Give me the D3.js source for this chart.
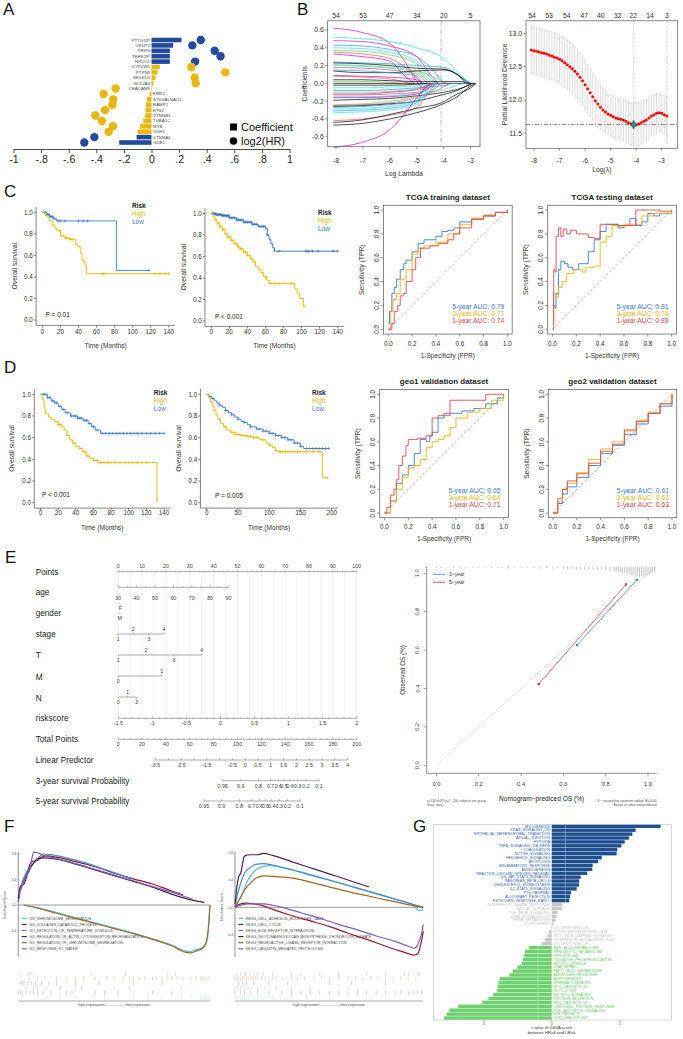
<!DOCTYPE html>
<html>
<head>
<meta charset="utf-8">
<script src="https://cdn.jsdelivr.net/npm/d3@7"></script>
<style>
  body { margin: 0; background: #fff; }
  svg { display: block; }
</style>
</head>
<body>
<svg id="fig" width="683" height="1039"></svg>
<script>
const FONT = '"Liberation Sans", Arial, Helvetica, sans-serif';

// ---------------- data: panel A (coefficients / log2 HR)
const aGenes = ['PTTG1IP','CFDP1','TRIP6','TERF2IP','NPDC1','CYP2W1','PTPN6','SEC61G','SLC2A3','CEACAM5',
  'EMP2','ST6GALNAC1','RAMP1','ETS2','CTNNB1','TUBA1C','MYB','CDH1','CTNNA1','GDE1'];
const aCoef = [0.217,0.157,0.133,0.133,0.133,0.06,0.043,0.029,0.014,0.005,
  -0.014,-0.034,-0.041,-0.043,-0.046,-0.06,-0.084,-0.099,-0.108,-0.234];
const aLog2HR = [0.357,0.296,0.458,0.5,0.316,0.289,0.535,0.313,0.32,-0.26,
  -0.347,-0.277,-0.284,-0.337,-0.407,-0.359,-0.28,-0.311,-0.414,-0.487];
const aGroup = ['b','b','b','b','b','y','y','y','y','y','y','y','y','y','y','y','y','y','b','b'];
const aTicks = [-1,-0.8,-0.6,-0.4,-0.2,0,0.2,0.4,0.6,0.8,1];

// ---------------- data: panel B (lasso paths, [logLambda, coef] pairs, color index)
const bPaths = [
  [5, [[-8.1,0.62],[-7,0.57],[-6,0.45],[-5.5,0.27],[-5,0.02],[-4.7,-0.08],[-4.4,0]]],
  [4, [[-8.1,0.52],[-7,0.5],[-6,0.47],[-5,0.4],[-4,0.28],[-3.4,0.1],[-3,0]]],
  [5, [[-8.1,0.48],[-7,0.47],[-6,0.42],[-5,0.3],[-4.5,0.1],[-4.2,0]]],
  [3, [[-8.1,0.43],[-7,0.42],[-6,0.38],[-5,0.3],[-4.5,0.18],[-4,0]]],
  [4, [[-8.1,0.40],[-7,0.39],[-6,0.35],[-5,0.25],[-4.6,0.1],[-4.3,0]]],
  [2, [[-8.1,0.37],[-7,0.36],[-6,0.32],[-5,0.22],[-4.8,0.1],[-4.5,0]]],
  [1, [[-8.1,0.35],[-7,0.33],[-6,0.28],[-5.3,0.15],[-4.8,0]]],
  [5, [[-8.1,0.33],[-7,0.3],[-6,0.25],[-5.5,0.1],[-5.1,0]]],
  [3, [[-8.1,0.24],[-7,0.23],[-6,0.22],[-5,0.2],[-4,0.18],[-3.3,0.06],[-3,0]]],
  [0, [[-8.1,0.23],[-7,0.22],[-6,0.2],[-5,0.17],[-4,0.16],[-3.5,0.1],[-3.1,0]]],
  [2, [[-8.1,0.21],[-7,0.2],[-6,0.18],[-5,0.14],[-4.3,0.06],[-3.9,0]]],
  [4, [[-8.1,0.20],[-7,0.19],[-6,0.17],[-5,0.12],[-4.5,0.04],[-4.2,0]]],
  [1, [[-8.1,0.18],[-7,0.17],[-6,0.15],[-5,0.1],[-4.6,0]]],
  [0, [[-8.1,0.14],[-7,0.12],[-6,0.12],[-5,0.14],[-4,0.15],[-3.5,0.1],[-3.2,0]]],
  [3, [[-8.1,0.15],[-7,0.14],[-6,0.12],[-5,0.08],[-4.8,0]]],
  [5, [[-8.1,0.09],[-7,0.08],[-6,0.07],[-5,0.04],[-4.8,0]]],
  [1, [[-8.1,0.08],[-7,0.07],[-6,0.05],[-5.5,0.02],[-5.2,0]]],
  [0, [[-8.1,0.04],[-7,0.04],[-6,0.03],[-5,0.02],[-4,0.02],[-3.4,0.02],[-3,0]]],
  [2, [[-8.1,0.02],[-7,0.02],[-6,0.01],[-5.6,0]]],
  [0, [[-8.1,0],[-2.8,0]]],
  [0, [[-8.1,-0.02],[-7,-0.02],[-6,-0.02],[-5,-0.01],[-4.5,0]]],
  [4, [[-8.1,-0.05],[-7,-0.05],[-6,-0.04],[-5,-0.03],[-4.5,0]]],
  [3, [[-8.1,-0.08],[-7,-0.08],[-6,-0.07],[-5,-0.05],[-4.2,-0.03],[-3.6,0]]],
  [2, [[-8.1,-0.1],[-7,-0.1],[-6,-0.09],[-5,-0.06],[-4.4,0]]],
  [5, [[-8.1,-0.12],[-7,-0.12],[-6,-0.1],[-5,-0.07],[-4.5,0]]],
  [1, [[-8.1,-0.13],[-7,-0.13],[-6,-0.12],[-5,-0.1],[-4.6,-0.03],[-4.3,0]]],
  [4, [[-8.1,-0.15],[-7,-0.15],[-6,-0.14],[-5,-0.11],[-4,-0.07],[-3.5,-0.02],[-3.2,0]]],
  [5, [[-8.1,-0.16],[-7,-0.16],[-6,-0.15],[-5,-0.12],[-4.5,-0.04],[-4.2,0]]],
  [0, [[-8.1,-0.19],[-7,-0.18],[-6,-0.17],[-5,-0.14],[-4,-0.1],[-3.3,-0.05],[-2.9,0]]],
  [2, [[-8.1,-0.24],[-7,-0.23],[-6,-0.2],[-5,-0.14],[-4.6,-0.05],[-4.3,0]]],
  [1, [[-8.1,-0.25],[-7,-0.24],[-6,-0.22],[-5,-0.16],[-4.2,-0.07],[-3.8,0]]],
  [0, [[-8.1,-0.26],[-7,-0.25],[-6,-0.23],[-5,-0.2],[-4.2,-0.14],[-3.5,-0.08],[-3,0]]],
  [3, [[-8.1,-0.27],[-7,-0.26],[-6,-0.24],[-5,-0.19],[-4.5,-0.1],[-4.1,0]]],
  [4, [[-8.1,-0.29],[-7,-0.28],[-6,-0.26],[-5,-0.2],[-4.6,-0.12],[-4.2,0]]],
  [3, [[-8.1,-0.31],[-7,-0.3],[-6,-0.28],[-5,-0.22],[-4.8,-0.1],[-4.4,0]]],
  [4, [[-8.1,-0.33],[-7,-0.32],[-6,-0.3],[-5,-0.24],[-4.7,-0.12],[-4.3,0]]],
  [1, [[-8.1,-0.42],[-7,-0.4],[-6,-0.36],[-5,-0.27],[-4.6,-0.12],[-4.3,0]]],
  [0, [[-8.1,-0.44],[-7,-0.41],[-6,-0.35],[-5,-0.28],[-4.1,-0.22],[-3.5,-0.12],[-3,-0.05],[-2.8,0]]],
  [5, [[-8.1,-0.72],[-7,-0.66],[-6,-0.52],[-5.5,-0.36],[-5,-0.16],[-4.6,-0.03],[-4.4,0]]],
  [0, [[-8.1,-0.47],[-7,-0.45],[-6,-0.4],[-5,-0.33],[-4.1,-0.24],[-3.5,-0.15],[-3,-0.03],[-2.8,0]]]
];
const bPalette = ['#000000','#DF536B','#61D04F','#2297E6','#28E2E5','#CD0BBC'];
const bTopLeftLam = [-8,-7,-6,-5,-4,-3];
const bTopLeftN = ['54','53','47','34','20','5'];
// cross-validation: [logLambda, mean deviance, sd]
const bCv = [
  [-8.1,12.75,0.36],[-8.0,12.74,0.36],[-7.9,12.73,0.36],[-7.8,12.72,0.36],[-7.7,12.71,0.36],[-7.6,12.70,0.36],
  [-7.5,12.69,0.36],[-7.4,12.67,0.36],[-7.3,12.66,0.36],[-7.2,12.64,0.36],[-7.1,12.63,0.36],[-7.0,12.61,0.36],
  [-6.9,12.59,0.36],[-6.8,12.56,0.37],[-6.7,12.53,0.37],[-6.6,12.50,0.37],[-6.5,12.47,0.37],[-6.4,12.43,0.37],
  [-6.3,12.39,0.37],[-6.2,12.34,0.37],[-6.1,12.29,0.37],[-6.0,12.23,0.37],[-5.9,12.17,0.36],[-5.8,12.11,0.36],
  [-5.7,12.05,0.35],[-5.6,11.99,0.35],[-5.5,11.94,0.34],[-5.4,11.89,0.33],[-5.3,11.85,0.33],[-5.2,11.82,0.32],
  [-5.1,11.79,0.31],[-5.0,11.77,0.31],[-4.9,11.75,0.31],[-4.8,11.73,0.31],[-4.7,11.72,0.31],[-4.6,11.71,0.31],
  [-4.5,11.70,0.31],[-4.4,11.68,0.31],[-4.3,11.66,0.32],[-4.2,11.64,0.32],[-4.1,11.63,0.32],[-4.0,11.63,0.33],
  [-3.9,11.64,0.33],[-3.8,11.66,0.32],[-3.7,11.68,0.32],[-3.6,11.70,0.31],[-3.5,11.73,0.31],[-3.4,11.76,0.30],
  [-3.3,11.78,0.30],[-3.2,11.80,0.30],[-3.1,11.81,0.29],[-3.0,11.80,0.29],[-2.9,11.78,0.29],[-2.8,11.76,0.29]
];
const bTopRightLam = [-8.08,-7.41,-6.72,-6.03,-5.39,-4.72,-4.11,-3.46,-2.8];
const bTopRightN = ['54','53','54','47','40','32','22','14','3'];
const bLamMin = -4.1, bLam1se = -2.8, bCvMin = 11.63;

// ---------------- data: panels C / D (Kaplan-Meier steps [time, survival] and censor times)
const c1High = [[0,1],[3,0.97],[6,0.95],[8,0.92],[11,0.88],[14,0.85],[16,0.83],[20,0.78],[25,0.76],[30,0.75],
  [37,0.7],[39,0.68],[42,0.62],[44,0.55],[47,0.5],[49,0.43],[140,0.43]];
const c1HighCens = [22,26,28,31,33,66,68,125,130,136,140];
const c1Low = [[0,1],[5,0.98],[8,0.96],[12,0.94],[16,0.92],[82,0.46],[118,0.46]];
const c1LowCens = [2,3,5,6,7,9,10,11,13,17,20,25,40,45,50,118];

const c2High = [[0,1],[2,0.97],[4,0.94],[6,0.91],[9,0.88],[12,0.85],[15,0.81],[18,0.78],[22,0.75],[25,0.72],
  [29,0.69],[32,0.67],[36,0.64],[40,0.61],[43,0.58],[46,0.55],[49,0.51],[52,0.48],[55,0.45],[58,0.41],[61,0.38],
  [64,0.35],[92,0.30],[95,0.26],[98,0.21],[102,0.14],[103,0.14]];
const c2HighCens = [5,8,10,12,14,16,18,20,22,24,26,28,30,32,34,36,38,40,42,45,48,56,60,66,70,75,82,88,103];
const c2Low = [[0,1],[5,0.99],[12,0.98],[20,0.96],[28,0.94],[36,0.92],[45,0.9],[52,0.88],[60,0.86],[62,0.8],
  [64,0.76],[66,0.72],[68,0.68],[70,0.65],[140,0.65]];
const c2LowCens = [1,2,3,4,5,6,7,8,9,10,11,12,13,14,15,16,17,18,19,20,22,24,26,28,30,32,34,36,38,40,42,44,46,
  48,50,53,56,58,62,75,105,108,112,118,135,140];

const d1High = [[0,1],[2,0.95],[4,0.9],[5,0.85],[6,0.82],[9,0.79],[12,0.77],[16,0.75],[20,0.72],[24,0.7],
  [27,0.67],[30,0.62],[33,0.58],[36,0.55],[40,0.52],[44,0.5],[48,0.47],[52,0.43],[56,0.41],[60,0.39],[65,0.37],
  [132,0]];
const d1HighCens = [20,22,30,38,45,50,54,60,64,68,72,76,80,85,90,96,100,104,110,115,120];
const d1Low = [[0,1],[8,0.97],[12,0.94],[16,0.92],[20,0.89],[24,0.86],[28,0.83],[34,0.8],[42,0.78],[48,0.76],
  [54,0.73],[58,0.7],[62,0.67],[68,0.64],[140,0.64]];
const d1LowCens = [3,5,8,10,14,18,22,26,30,35,38,40,42,44,46,50,52,56,60,64,70,74,78,82,86,90,94,98,102,106,
  110,115,120,125,130,135,140];

const d2High = [[0,1],[3,0.97],[6,0.93],[9,0.89],[12,0.85],[15,0.81],[18,0.77],[22,0.73],[27,0.7],[32,0.67],
  [38,0.65],[45,0.63],[55,0.62],[65,0.61],[75,0.6],[85,0.58],[95,0.55],[100,0.53],[105,0.51],[110,0.48],
  [115,0.47],[185,0.23],[194,0.23]];
const d2HighCens = [20,30,40,45,50,55,60,65,70,75,80,90,100,110,118,122,126,130,135,140,145,150,160,170,180,193];
const d2Low = [[0,1],[4,0.98],[8,0.96],[12,0.94],[16,0.92],[20,0.9],[25,0.88],[30,0.85],[35,0.83],[40,0.81],
  [45,0.79],[50,0.77],[55,0.75],[60,0.74],[65,0.72],[70,0.7],[80,0.68],[90,0.66],[100,0.64],[110,0.62],
  [120,0.6],[130,0.58],[140,0.55],[150,0.52],[155,0.5],[195,0.5]];
const d2LowCens = [10,20,30,40,50,60,70,80,85,90,95,100,105,110,115,120,125,130,135,140,145,150,160,165,170,
  175,180,185,190,195];

// ROC curves [FPR, TPR]
const rocTrain5 = [[0,0.05],[0.01,0.15],[0.03,0.3],[0.05,0.35],[0.07,0.42],[0.1,0.5],[0.13,0.55],[0.15,0.58],
  [0.2,0.65],[0.25,0.72],[0.3,0.75],[0.35,0.75],[0.4,0.78],[0.45,0.82],[0.5,0.83],[0.55,0.85],[0.6,0.9],
  [0.7,0.93],[0.8,0.95],[0.9,0.98],[1,1]];
const rocTrain3 = [[0,0],[0.02,0.15],[0.04,0.25],[0.07,0.3],[0.1,0.42],[0.15,0.5],[0.2,0.63],[0.25,0.68],
  [0.3,0.7],[0.4,0.73],[0.5,0.8],[0.6,0.88],[0.7,0.93],[0.8,0.96],[0.9,0.98],[1,1]];
const rocTrain1 = [[0,0],[0.03,0.05],[0.05,0.15],[0.08,0.2],[0.1,0.28],[0.13,0.3],[0.15,0.4],[0.2,0.5],
  [0.23,0.6],[0.27,0.68],[0.35,0.7],[0.42,0.72],[0.5,0.75],[0.55,0.8],[0.6,0.85],[0.7,0.92],[0.8,0.95],
  [0.9,0.98],[1,1]];
const rocTest5 = [[0,0.2],[0.02,0.18],[0.03,0.3],[0.05,0.5],[0.07,0.57],[0.1,0.55],[0.13,0.52],[0.17,0.5],
  [0.22,0.55],[0.3,0.65],[0.35,0.75],[0.4,0.82],[0.45,0.88],[0.52,0.88],[0.55,0.85],[0.6,0.87],[0.65,0.93],
  [0.7,0.87],[0.75,0.9],[0.8,0.97],[0.85,0.95],[0.9,0.97],[1,1]];
const rocTest3 = [[0,0.05],[0.01,0.3],[0.03,0.27],[0.05,0.35],[0.08,0.4],[0.12,0.47],[0.18,0.5],[0.25,0.48],
  [0.28,0.52],[0.35,0.53],[0.37,0.53],[0.4,0.73],[0.45,0.78],[0.5,0.87],[0.55,0.86],[0.6,0.88],[0.7,0.88],
  [0.75,0.95],[0.85,0.97],[1,1]];
const rocTest1 = [[0,0],[0.01,0.5],[0.02,0.48],[0.03,0.78],[0.05,0.85],[0.07,0.78],[0.09,0.84],[0.12,0.8],
  [0.15,0.83],[0.2,0.8],[0.3,0.77],[0.35,0.76],[0.4,0.88],[0.5,0.88],[0.55,0.87],[0.67,0.87],[0.7,1.0],
  [0.8,1.0],[0.9,0.99],[1,0.99]];
const rocGeo1_5 = [[0,0],[0.05,0.1],[0.1,0.25],[0.15,0.32],[0.2,0.4],[0.25,0.5],[0.3,0.62],[0.35,0.6],
  [0.38,0.65],[0.4,0.68],[0.45,0.8],[0.5,0.84],[0.6,0.84],[0.65,0.86],[0.75,0.88],[0.85,0.92],[0.95,0.97],[1,1]];
const rocGeo1_3 = [[0,0],[0.05,0.1],[0.1,0.2],[0.15,0.3],[0.2,0.38],[0.25,0.4],[0.3,0.45],[0.35,0.55],
  [0.4,0.6],[0.45,0.62],[0.5,0.65],[0.55,0.72],[0.6,0.8],[0.7,0.85],[0.8,0.88],[0.9,0.95],[1,1]];
const rocGeo1_1 = [[0,0],[0.02,0.05],[0.05,0.15],[0.08,0.2],[0.1,0.28],[0.12,0.4],[0.15,0.48],[0.18,0.57],
  [0.2,0.62],[0.25,0.62],[0.28,0.63],[0.35,0.65],[0.4,0.8],[0.45,0.82],[0.5,0.82],[0.55,0.95],[0.8,0.95],
  [0.85,1],[1,1]];
const rocGeo2_5 = [[0,0],[0.04,0.08],[0.08,0.16],[0.12,0.22],[0.2,0.3],[0.3,0.4],[0.4,0.5],[0.5,0.57],
  [0.6,0.66],[0.7,0.75],[0.8,0.84],[0.9,0.9],[1,1]];
const rocGeo2_3 = [[0,0],[0.04,0.1],[0.08,0.2],[0.12,0.25],[0.2,0.34],[0.3,0.45],[0.4,0.54],[0.5,0.6],
  [0.6,0.69],[0.7,0.78],[0.8,0.85],[0.9,0.92],[1,1]];
const rocGeo2_1 = [[0,0],[0.04,0.12],[0.08,0.2],[0.12,0.27],[0.2,0.33],[0.3,0.42],[0.4,0.52],[0.5,0.58],
  [0.6,0.7],[0.7,0.77],[0.8,0.84],[0.9,0.92],[1,1]];

// ---------------- data: panel E (nomogram + calibration)
const nomoPointTicks = [0,10,20,30,40,50,60,70,80,90,100];
const ageLabels = [30,40,50,60,70,80,90];
const agePts = [0,7.7,15.4,23.1,30.8,38.5,46.2];
const stageLevels = ['1','2','3','4'], stagePts = [0,6.3,12.9,19.2];
const tLevels = ['1','2','3','4'], tPts = [0,11.6,23.4,35];
const mLevels = ['0','1'], mPts = [0,18.2];
const nLevels = ['0','1','2'], nPts = [0,3.8,7.7];
const riskLabels = [-1.5,-1,-0.5,0,0.5,1,1.5,2];
const totalTicks = [0,20,40,60,80,100,120,140,160,180,200];
const lpLabels = [-3.5,-2.5,-1.5,-0.5,0,0.5,1,1.5,2,2.5,3,3.5,4];
const surv3Labels = ['0.95','0.9','0.8','0.7','0.6','0.5','0.4','0.3','0.2','0.1'];
const surv3Total = [87.6,102.7,117.5,127.8,134.3,139,144,150.5,157.5,168.4];
const surv5Labels = ['0.95','0.9','0.8','0.7','0.6','0.5','0.4','0.3','0.2','0.1'];
const surv5Total = [71.9,86.7,101.5,111.9,118.3,123.6,128.7,135.1,141.8,152.4];

const cal3 = [[0.664,0.626],[0.947,0.966]];
const cal5 = [[0.483,0.423],[0.896,0.942]];
const calHist = [[0.00,1],[0.02,1.5],[0.05,1],[0.08,1],[0.11,1.5],[0.14,1],[0.17,1],[0.2,1.5],[0.23,1],[0.26,1],
  [0.29,1.5],[0.31,1],[0.34,2],[0.37,1],[0.40,1.5],[0.43,1],[0.46,1.5],[0.49,2],[0.52,1.5],[0.55,2],[0.57,1.5],
  [0.6,2],[0.62,2.5],[0.64,2],[0.66,2.5],[0.68,3],[0.70,2.5],[0.72,3],[0.74,3],[0.76,3.5],[0.78,3],[0.80,4],
  [0.82,4],[0.84,5],[0.85,4.5],[0.86,6],[0.87,5],[0.88,7],[0.89,6],[0.90,8],[0.91,7],[0.92,9],[0.93,8],
  [0.94,10],[0.95,9],[0.96,10],[0.97,9],[0.98,10],[0.99,9],[1.00,8],[1.01,7],[1.02,6],[1.03,5]];

// ---------------- data: panel F (GSEA running scores [rank fraction, ES])
const goNames = ['GO_CHROMOSOME_SEGREGATION','GO_COLLAGEN_CATABOLIC_PROCESS','GO_DETECTION_OF_TEMPERATURE_STIMULUS',
  'GO_REGULATION_OF_ACTIN_CYTOSKELETON_REORGANIZATION','GO_REGULATION_OF_CHROMOSOME_SEGREGATION','GO_RESPONSE_TO_WATER'];
const keggNames = ['KEGG_CELL_ADHESION_MOLECULES_CAMS','KEGG_CELL_CYCLE','KEGG_ECM_RECEPTOR_INTERACTION',
  'KEGG_GLYCOSAMINOGLYCAN_BIOSYNTHESIS_CHONDROITIN_SULFATE','KEGG_NEUROACTIVE_LIGAND_RECEPTOR_INTERACTION',
  'KEGG_UBIQUITIN_MEDIATED_PROTEOLYSIS'];
const gseaColors = ['#4EC3D8','#8E1B3A','#4A89C8','#4B2050','#A5642A','#7C5CB5'];
const goCurves = [
  [[0.03,0],[0.1,-0.04],[0.2,-0.12],[0.3,-0.2],[0.4,-0.28],[0.5,-0.36],[0.6,-0.44],[0.7,-0.53],[0.8,-0.63],
   [0.86,-0.71],[0.89,-0.73],[0.93,-0.7],[0.96,-0.67],[0.98,-0.6],[0.99,-0.45],[1,0]],
  [[0,0.05],[0.01,0.25],[0.03,0.4],[0.05,0.55],[0.07,0.68],[0.1,0.7],[0.12,0.75],[0.15,0.77],[0.2,0.75],
   [0.3,0.68],[0.4,0.6],[0.5,0.5],[0.6,0.41],[0.7,0.33],[0.8,0.22],[0.86,0.16]],
  [[0,0.05],[0.02,0.35],[0.04,0.5],[0.07,0.62],[0.1,0.72],[0.13,0.8],[0.17,0.79],[0.25,0.74],[0.35,0.66],
   [0.45,0.56],[0.59,0.41]],
  [[0,0.1],[0.01,0.28],[0.03,0.33],[0.05,0.5],[0.08,0.66],[0.1,0.73],[0.13,0.74],[0.2,0.72],[0.3,0.64],
   [0.4,0.55],[0.5,0.46],[0.6,0.37],[0.7,0.28],[0.8,0.17],[0.9,0.08],[0.97,0.04]],
  [[0.03,0],[0.1,-0.05],[0.2,-0.13],[0.3,-0.21],[0.4,-0.29],[0.5,-0.37],[0.6,-0.45],[0.7,-0.54],[0.8,-0.64],
   [0.87,-0.74],[0.9,-0.75],[0.93,-0.72],[0.96,-0.68],[0.98,-0.58],[0.99,-0.4],[1,0]],
  [[0,0.15],[0.02,0.3],[0.04,0.45],[0.06,0.55],[0.08,0.83],[0.1,0.82],[0.13,0.78],[0.2,0.73],[0.3,0.65],
   [0.4,0.56],[0.5,0.47],[0.6,0.38],[0.7,0.29],[0.8,0.2],[0.91,0.09]]
];
const keggCurves = [
  [[0,0],[0.02,0.1],[0.04,0.2],[0.06,0.35],[0.08,0.45],[0.1,0.52],[0.13,0.58],[0.18,0.61],[0.25,0.58],
   [0.35,0.52],[0.45,0.44],[0.55,0.36],[0.65,0.28],[0.75,0.2],[0.85,0.12],[0.95,0.02],[0.98,-0.05],[1,-0.03]],
  [[0,0],[0.02,0.04],[0.06,0.06],[0.1,0.05],[0.15,0.02],[0.2,-0.03],[0.3,-0.12],[0.4,-0.2],[0.5,-0.28],
   [0.6,-0.38],[0.7,-0.47],[0.8,-0.57],[0.9,-0.66],[0.95,-0.7],[0.97,-0.68],[0.99,-0.5],[1,-0.35]],
  [[0,0],[0.01,0.15],[0.03,0.35],[0.05,0.5],[0.08,0.58],[0.11,0.63],[0.15,0.64],[0.2,0.62],[0.3,0.55],
   [0.4,0.47],[0.5,0.4],[0.6,0.32],[0.7,0.24],[0.8,0.16],[0.9,0.08],[1,0.0]],
  [[0,0.05],[0.01,0.3],[0.02,0.45],[0.03,0.5],[0.05,0.75],[0.08,0.77],[0.12,0.77],[0.15,0.79],[0.2,0.76],
   [0.3,0.67],[0.4,0.58],[0.5,0.49],[0.6,0.4],[0.71,0.3]],
  [[0,0],[0.02,0.1],[0.05,0.25],[0.08,0.35],[0.12,0.44],[0.16,0.46],[0.22,0.45],[0.3,0.43],[0.4,0.37],
   [0.5,0.3],[0.6,0.23],[0.7,0.17],[0.8,0.11],[0.9,0.05],[1,0.0]],
  [[0,0],[0.03,0.03],[0.08,0.05],[0.15,0.05],[0.2,0.03],[0.25,0.0],[0.35,-0.08],[0.45,-0.16],[0.55,-0.25],
   [0.65,-0.33],[0.75,-0.42],[0.85,-0.5],[0.92,-0.57],[0.95,-0.6],[0.97,-0.55],[0.99,-0.4],[1,-0.25]]
];
// hit positions, rows top to bottom (set index, positions)
const goRug = [
  [5, [0.01,0.05,0.06,0.07,0.38,0.56,0.78,0.82]],
  [4, [0.06,0.1,0.14,0.2,0.25,0.3,0.34,0.4,0.46,0.5,0.55,0.58,0.6,0.63,0.66,0.7,0.72,0.75,0.78,0.8,0.83,0.86,
       0.9,0.93,0.95,0.96,0.97,0.98,0.99]],
  [3, [0.01,0.02,0.03,0.05,0.07,0.09,0.12,0.16,0.2,0.3,0.42,0.6,0.75]],
  [2, [0.04,0.08,0.1,0.15,0.22,0.3,0.33,0.5,0.58,0.85]],
  [1, [0.0,0.01,0.02,0.04,0.06,0.08,0.1,0.13,0.17,0.25,0.28,0.4,0.45,0.52,0.7,0.8]],
  [0, [0.02,0.1,0.15,0.22,0.3,0.4,0.45,0.52,0.6,0.68,0.75,0.85,0.9,0.95,0.96,0.97,0.98,0.99,1.0]]
];
const keggRug = [
  [5, [0.01,0.03,0.05,0.06,0.08,0.1,0.12,0.15,0.2,0.3,0.35,0.45,0.55,0.7,0.8,0.9,0.92,0.95,0.97,0.98]],
  [4, [0.0,0.01,0.02,0.03,0.04,0.05,0.06,0.07,0.08,0.09,0.1,0.11,0.12,0.14,0.16,0.18,0.2,0.22,0.25,0.3,0.33,
       0.37,0.42,0.46,0.5,0.55,0.6,0.64,0.68,0.72,0.76,0.8,0.84,0.88,0.92,0.96]],
  [3, [0.02,0.04,0.06,0.1,0.18,0.28,0.5,0.62,0.8]],
  [2, [0.0,0.01,0.02,0.03,0.05,0.07,0.09,0.12,0.16,0.22,0.3,0.4,0.6]],
  [1, [0.0,0.03,0.05,0.08,0.12,0.18,0.25,0.3,0.35,0.4,0.45,0.5,0.55,0.6,0.65,0.7,0.75,0.8,0.85,0.88,0.92,
       0.95,0.97,0.99]],
  [0, [0.0,0.01,0.02,0.03,0.04,0.05,0.06,0.07,0.08,0.1,0.12,0.14,0.17,0.2,0.24,0.3,0.38,0.5,0.6,0.72,0.85]]
];

// ---------------- data: panel G (GSVA t values, hallmark sets)
const gSets = ['MYOGENESIS','KRAS_SIGNALING_DN','EPITHELIAL_MESENCHYMAL_TRANSITION','APICAL_JUNCTION','HYPOXIA',
  'TNFA_SIGNALING_VIA_NFKB','COAGULATION','NOTCH_SIGNALING','HEDGEHOG_SIGNALING','APOPTOSIS',
  'INFLAMMATORY_RESPONSE','ANGIOGENESIS','REACTIVE_OXYGEN_SPECIES_PATHWAY','IL6_JAK_STAT3_SIGNALING',
  'PANCREAS_BETA_CELLS','CHOLESTEROL_HOMEOSTASIS','IL2_STAT5_SIGNALING','P53_PATHWAY','ALLOGRAFT_REJECTION',
  'ESTROGEN_RESPONSE_EARLY','INTERFERON_GAMMA_RESPONSE','APICAL_SURFACE','TGF_BETA_SIGNALING','KRAS_SIGNALING_UP',
  'HEME_METABOLISM','COMPLEMENT','UV_RESPONSE_DN','ESTROGEN_RESPONSE_LATE','WNT_BETA_CATENIN_SIGNALING',
  'INTERFERON_ALPHA_RESPONSE','UV_RESPONSE_UP','BILE_ACID_METABOLISM','XENOBIOTIC_METABOLISM','PEROXISOME',
  'OXIDATIVE_PHOSPHORYLATION','MITOTIC_SPINDLE','DNA_REPAIR','FATTY_ACID_METABOLISM','ANDROGEN_RESPONSE',
  'ADIPOGENESIS','SPERMATOGENESIS','MYC_TARGETS_V2','GLYCOLYSIS','MTORC1_SIGNALING','PROTEIN_SECRETION',
  'MYC_TARGETS_V1','UNFOLDED_PROTEIN_RESPONSE','PI3K_AKT_MTOR_SIGNALING','E2F_TARGETS','G2M_CHECKPOINT'];
const gT = [7.97,6.14,5.9,5.65,5.34,5.1,4.8,4.75,3.66,3.41,3.0,2.97,2.6,2.12,2.02,2.0,1.83,1.41,1.34,1.29,
  0.78,0.73,0.41,0.36,0.29,0.12,-0.05,-0.2,-0.3,-0.49,-0.73,-1.66,-1.95,-2.0,-2.12,-2.2,-2.51,-2.85,-3.1,
  -3.78,-3.9,-3.95,-3.98,-4.27,-4.63,-5.07,-6.83,-7.49,-7.68,-7.88];

// =====================================================================
const svg = d3.select('#fig');
svg.append('rect').attr('width', 683).attr('height', 1039).attr('fill', '#fff');

function label(p, x, y, s, fs, o) {
  o = o || {};
  const t = p.append('text').attr('x', x).attr('y', y).text(s)
    .attr('font-family', FONT).attr('font-size', fs)
    .attr('text-anchor', o.anchor || 'start').attr('fill', o.fill || '#222');
  if (o.bold) t.attr('font-weight', 'bold');
  if (o.rot) t.attr('transform', 'rotate(' + o.rot + ',' + x + ',' + y + ')');
  return t;
}
function seg(p, x1, y1, x2, y2, col, w, dash) {
  const l = p.append('line').attr('x1', x1).attr('y1', y1).attr('x2', x2).attr('y2', y2)
    .attr('stroke', col || '#333').attr('stroke-width', w || 0.6);
  if (dash) l.attr('stroke-dasharray', dash);
  return l;
}
const hy = v => (v < 0 ? '-' : '') + Math.abs(v);

// panel letters
[['A', 3, 15], ['B', 297, 15], ['C', 4, 197], ['D', 4, 373], ['E', 5, 563], ['F', 4, 832], ['G', 413, 832]]
  .forEach(d => label(svg, d[1], d[2], d[0], 17, {fill: '#111'}));

// ---------------- Panel A
(function() {
  const g = svg.append('g');
  const x = d3.scaleLinear().domain([-1, 1]).range([13.5, 289.5]);
  const y = d3.scalePoint().domain(aGenes).range([40, 142.5]);
  const col = {b: '#234B9B', y: '#E8B60C'};
  g.selectAll('rect.bar').data(aGenes).join('rect')
    .attr('x', (d, i) => x(Math.min(0, aCoef[i])))
    .attr('width', (d, i) => Math.abs(x(aCoef[i]) - x(0)))
    .attr('y', d => y(d) - 2.3).attr('height', 4.6)
    .attr('fill', (d, i) => col[aGroup[i]]);
  aGenes.forEach((d, i) => {
    const pos = aCoef[i] > 0;
    label(g, x(0) + (pos ? -1.5 : 1.5), y(d) + 1.5, d, 4.4, {anchor: pos ? 'end' : 'start', fill: '#444'});
  });
  g.selectAll('circle').data(aGenes).join('circle')
    .attr('cx', (d, i) => x(aLog2HR[i])).attr('cy', d => y(d)).attr('r', 4.2)
    .attr('fill', (d, i) => col[aGroup[i]]);
  const ax = g.append('g').attr('transform', 'translate(0,149)')
    .call(d3.axisBottom(x).tickValues(aTicks).tickSize(4).tickPadding(3).tickSizeOuter(0)
      .tickFormat(v => v === 0 ? '0' : (v < 0 ? '-' : '') + (Math.abs(v) === 1 ? '1' : String(Math.abs(v)).replace(/^0/, ''))));
  ax.attr('font-family', FONT).attr('font-size', 10.5);
  ax.selectAll('path,line').attr('stroke', '#222').attr('stroke-width', 0.8);
  ax.selectAll('text').attr('fill', '#222');
  g.append('rect').attr('x', 230).attr('y', 123.5).attr('width', 7).attr('height', 7).attr('fill', '#000');
  g.append('circle').attr('cx', 233.5).attr('cy', 141).attr('r', 3.8).attr('fill', '#000');
  label(g, 241, 131, 'Coefficient', 11, {fill: '#111'});
  label(g, 241, 145, 'log2(HR)', 11, {fill: '#111'});
})();

// ---------------- R-style helpers
function rBox(g, b) {
  g.append('rect').attr('x', b.x0).attr('y', b.y0).attr('width', b.x1 - b.x0).attr('height', b.y1 - b.y0)
    .attr('fill', 'none').attr('stroke', '#555').attr('stroke-width', 0.7);
}
function rXTicks(g, sc, vals, yb, labY, fs, fmt) {
  vals.forEach(v => {
    seg(g, sc(v), yb, sc(v), yb + 2.5, '#555', 0.6);
    label(g, sc(v), labY, fmt(v), fs, {anchor: 'middle', fill: '#333'});
  });
}
function rYTicks(g, sc, vals, xb, fs, fmt, rotate) {
  vals.forEach(v => {
    seg(g, xb, sc(v), xb - 2.5, sc(v), '#555', 0.6);
    if (rotate) label(g, xb - 4.5, sc(v), fmt(v), fs, {anchor: 'middle', fill: '#333', rot: -90});
    else label(g, xb - 4, sc(v) + fs * 0.35, fmt(v), fs, {anchor: 'end', fill: '#333'});
  });
}

// ---------------- Panel B left: coefficient paths
(function() {
  const g = svg.append('g');
  const box = {x0: 327.7, x1: 480, y0: 20.8, y1: 146.7};
  const x = d3.scaleLinear().domain([-8, -3]).range([336, 470.7]);
  const y = d3.scaleLinear().domain([-0.6, 0.6]).range([136.7, 30]);
  const line = d3.line().x(d => x(d[0])).y(d => y(d[1])).curve(d3.curveMonotoneX);
  bPaths.forEach(p => {
    g.append('path').attr('d', line(p[1])).attr('fill', 'none')
      .attr('stroke', bPalette[p[0]]).attr('stroke-width', 0.7);
  });
  seg(g, x(bLamMin), box.y0, x(bLamMin), box.y1, '#999', 0.7, '4,2,1,2');
  rBox(g, box);
  rXTicks(g, x, [-8, -7, -6, -5, -4, -3], box.y1, 162.5, 6.8, hy);
  rYTicks(g, y, [-0.6, -0.4, -0.2, 0, 0.2, 0.4, 0.6], box.x0, 6.8, v => v.toFixed(1), false);
  bTopLeftLam.forEach((v, i) => label(g, x(v), 18.2, bTopLeftN[i], 6.8, {anchor: 'middle', fill: '#333'}));
  label(g, (box.x0 + box.x1) / 2, 175.5, 'Log Lambda', 6.8, {anchor: 'middle', fill: '#333'});
  label(g, 306.5, (box.y0 + box.y1) / 2, 'Coefficients', 6.8, {anchor: 'middle', fill: '#333', rot: -90});
})();

// ---------------- Panel B right: CV deviance
(function() {
  const g = svg.append('g');
  const box = {x0: 526, x1: 677.7, y0: 20.8, y1: 148.3};
  const x = d3.scaleLinear().domain([-8, -3]).range([534, 661.7]);
  const y = d3.scaleLinear().domain([11.5, 13]).range([133.3, 33.3]);
  bCv.forEach(d => {
    seg(g, x(d[0]), y(d[1] - d[2]), x(d[0]), y(d[1] + d[2]), '#c4c4c4', 0.6);
    seg(g, x(d[0]) - 0.9, y(d[1] + d[2]), x(d[0]) + 0.9, y(d[1] + d[2]), '#c4c4c4', 0.6);
    seg(g, x(d[0]) - 0.9, y(d[1] - d[2]), x(d[0]) + 0.9, y(d[1] - d[2]), '#c4c4c4', 0.6);
  });
  seg(g, x(bLamMin), box.y0, x(bLamMin), box.y1, '#aaa', 0.7, '1,1.5');
  seg(g, x(bLam1se), box.y0, x(bLam1se), box.y1, '#aaa', 0.7, '1,1.5');
  seg(g, box.x0, y(bCvMin), box.x1, y(bCvMin), '#666', 0.8, '4,2,1,2');
  g.selectAll('circle.cv').data(bCv).join('circle')
    .attr('cx', d => x(d[0])).attr('cy', d => y(d[1])).attr('r', 1.5).attr('fill', '#FF0000');
  g.append('path').attr('d', d3.symbol().type(d3.symbolDiamond).size(22)())
    .attr('transform', 'translate(' + x(bLamMin) + ',' + y(bCvMin) + ')')
    .attr('fill', '#1C9C8C').attr('stroke', '#222').attr('stroke-width', 0.5);
  rBox(g, box);
  rXTicks(g, x, [-8, -7, -6, -5, -4, -3], box.y1, 163, 6.8, hy);
  rYTicks(g, y, [11.5, 12.0, 12.5, 13.0], box.x0, 6.8, v => v.toFixed(1), false);
  bTopRightLam.forEach((v, i) => label(g, x(v), 17.8, bTopRightN[i], 6.8, {anchor: 'middle', fill: '#333'}));
  label(g, (box.x0 + box.x1) / 2, 171.5, 'Log(\u03bb)', 6.8, {anchor: 'middle', fill: '#333'});
  label(g, 507, (box.y0 + box.y1) / 2, 'Partial Likelihood Deviance', 6.8, {anchor: 'middle', fill: '#333', rot: -90});
})();

// ---------------- Kaplan-Meier
const KM_HIGH = '#E7B800', KM_LOW = '#3A7BD2';
function survAt(steps, t) {
  let s = steps[0][1];
  for (const st of steps) { if (st[0] <= t) s = st[1]; }
  return s;
}
function kmPlot(o) {
  const g = svg.append('g');
  const x = d3.scaleLinear().domain([0, o.tmax]).range([o.xa, o.xb]);
  const y = d3.scaleLinear().domain([0, 1]).range([o.y0, o.y1]);
  const px = (o.xb - o.xa) * 0.05, py = (o.y0 - o.y1) * 0.05;
  const axY = o.y0 + py, axX = o.xa - px;
  seg(g, axX, axY, o.xb + px, axY, '#333', 0.6);
  seg(g, axX, o.y1 - py, axX, axY, '#333', 0.6);
  o.xticks.forEach(v => {
    seg(g, x(v), axY, x(v), axY + 2.2, '#333', 0.6);
    label(g, x(v), o.tickY, String(v), 6.3, {anchor: 'middle', fill: '#333'});
  });
  [0, 0.2, 0.4, 0.6, 0.8, 1].forEach(v => {
    seg(g, axX, y(v), axX - 2.2, y(v), '#333', 0.6);
    label(g, axX - 3.2, y(v) + 2.2, v.toFixed(1), 6.3, {anchor: 'end', fill: '#333'});
  });
  const line = d3.line().x(d => x(d[0])).y(d => y(d[1])).curve(d3.curveStepAfter);
  o.series.forEach(s => {
    g.append('path').attr('d', line(s.steps)).attr('fill', 'none').attr('stroke', s.color).attr('stroke-width', 0.9);
    s.cens.forEach(t => {
      const cx = x(t), cy = y(survAt(s.steps, t));
      g.append('path').attr('d', 'M' + (cx - 1.6) + ',' + cy + 'H' + (cx + 1.6) + 'M' + cx + ',' + (cy - 1.6) + 'V' + (cy + 1.6))
        .attr('stroke', s.color).attr('stroke-width', 0.6);
    });
  });
  label(g, o.legX, o.legY, 'Risk', 6.5, {bold: true, fill: '#222'});
  label(g, o.legX, o.legY + 8.2, 'High', 6.5, {fill: KM_HIGH});
  label(g, o.legX, o.legY + 16.4, 'Low', 6.5, {fill: KM_LOW});
  label(g, o.pX, o.pY, o.p, 6.5, {fill: '#222'});
  label(g, (o.xa + o.xb) / 2, o.titleY, 'Time (Months)', 6.6, {anchor: 'middle', fill: '#333'});
  label(g, o.yTitleX, (o.y0 + o.y1) / 2, 'Overall survival', 6.8, {anchor: 'middle', fill: '#333', rot: -90});
}
const t140 = [0, 20, 40, 60, 80, 100, 120, 140];
kmPlot({xa: 42.4, xb: 168.8, tmax: 140, y0: 320, y1: 212.3, xticks: t140, tickY: 334, titleY: 347.5, yTitleX: 17.5,
  legX: 132, legY: 207.5, p: 'P = 0.01', pX: 45.5, pY: 316.5,
  series: [{steps: c1Low, cens: c1LowCens, color: KM_LOW}, {steps: c1High, cens: c1HighCens, color: KM_HIGH}]});
kmPlot({xa: 211.3, xb: 337.7, tmax: 140, y0: 321, y1: 213.5, xticks: t140, tickY: 334, titleY: 347.5, yTitleX: 186,
  legX: 318, legY: 214.5, p: 'P < 0.001', pX: 215, pY: 318.5,
  series: [{steps: c2Low, cens: c2LowCens, color: '#2F6BC0'}, {steps: c2High, cens: c2HighCens, color: KM_HIGH}]});
kmPlot({xa: 40.5, xb: 164, tmax: 140, y0: 502.7, y1: 394.3, xticks: t140, tickY: 515, titleY: 529.5, yTitleX: 13.5,
  legX: 153.7, legY: 394.5, p: 'P < 0.001', pX: 42, pY: 497,
  series: [{steps: d1Low, cens: d1LowCens, color: KM_LOW}, {steps: d1High, cens: d1HighCens, color: KM_HIGH}]});
kmPlot({xa: 206.7, xb: 331.7, tmax: 200, y0: 502.7, y1: 394.3, xticks: [0, 50, 100, 150, 200], tickY: 515, titleY: 529.5,
  yTitleX: 181, legX: 312, legY: 394.5, p: 'P = 0.005', pX: 215, pY: 498,
  series: [{steps: d2Low, cens: d2LowCens, color: KM_LOW}, {steps: d2High, cens: d2HighCens, color: KM_HIGH}]});

// ---------------- ROC
const ROC_COL = {5: '#3A7BDA', 3: '#E8B60C', 1: '#E0474C'};
function rocPlot(o) {
  const g = svg.append('g');
  const x = d3.scaleLinear().domain([0, 1]).range([o.xa, o.xb]);
  const y = d3.scaleLinear().domain([0, 1]).range([o.y0, o.y1]);
  const px = (o.xb - o.xa) * 0.04, py = (o.y0 - o.y1) * 0.04;
  const box = {x0: o.xa - px, x1: o.xb + px, y0: o.y1 - py, y1: o.y0 + py};
  seg(g, x(0), y(0), x(1), y(1), '#888', 0.6, '2.5,2');
  const line = d3.line().x(d => x(d[0])).y(d => y(d[1])).curve(d3.curveStepAfter);
  o.curves.forEach(c => {
    g.append('path').attr('d', line(c.pts)).attr('fill', 'none').attr('stroke', ROC_COL[c.yr]).attr('stroke-width', 0.9);
  });
  rBox(g, box);
  const tv = [0, 0.2, 0.4, 0.6, 0.8, 1];
  rXTicks(g, x, tv, box.y1, box.y1 + 11.5, 6.3, v => v.toFixed(1));
  rYTicks(g, y, tv, box.x0, 6.3, v => v.toFixed(1), true);
  label(g, (box.x0 + box.x1) / 2, box.y1 + 23.5, '1-Specificity (FPR)', 6.5, {anchor: 'middle', fill: '#333'});
  label(g, box.x0 - 19.5, (box.y0 + box.y1) / 2, 'Sensitivity (TPR)', 6.8, {anchor: 'middle', fill: '#333', rot: -90});
  label(g, (box.x0 + box.x1) / 2, box.y0 - 5.5, o.title, 8, {anchor: 'middle', bold: true, fill: '#222'});
  o.curves.forEach((c, i) => {
    label(g, o.xb - 3, o.aucY + i * 7.2, c.yr + '-year AUC: ' + c.auc, 6.8, {anchor: 'end', fill: ROC_COL[c.yr]});
  });
}
rocPlot({xa: 388.3, xb: 507.4, y0: 329.3, y1: 210, title: 'TCGA training dataset', aucY: 309,
  curves: [{yr: 5, pts: rocTrain5, auc: '0.79'}, {yr: 3, pts: rocTrain3, auc: '0.77'}, {yr: 1, pts: rocTrain1, auc: '0.74'}]});
rocPlot({xa: 552.5, xb: 671.6, y0: 329.3, y1: 210, title: 'TCGA testing dataset', aucY: 309,
  curves: [{yr: 5, pts: rocTest5, auc: '0.81'}, {yr: 3, pts: rocTest3, auc: '0.74'}, {yr: 1, pts: rocTest1, auc: '0.89'}]});
rocPlot({xa: 384.5, xb: 503.6, y0: 513, y1: 394.3, title: 'geo1 validation dataset', aucY: 493,
  curves: [{yr: 5, pts: rocGeo1_5, auc: '0.65'}, {yr: 3, pts: rocGeo1_3, auc: '0.64'}, {yr: 1, pts: rocGeo1_1, auc: '0.71'}]});
rocPlot({xa: 553, xb: 672, y0: 513, y1: 394.3, title: 'geo2 validation dataset', aucY: 493,
  curves: [{yr: 5, pts: rocGeo2_5, auc: '0.61'}, {yr: 3, pts: rocGeo2_3, auc: '0.63'}, {yr: 1, pts: rocGeo2_1, auc: '0.63'}]});

// ---------------- Panel E nomogram
(function() {
  const g = svg.append('g');
  const xp = d3.scaleLinear().domain([0, 100]).range([118.3, 356.7]);
  const xt = d3.scaleLinear().domain([0, 200]).range([118.3, 356.7]);
  const LX = 35.7, FS = 8.2, TF = 5.3, TC = '#444';
  // grid
  d3.range(0, 101, 5).forEach(v => seg(g, xp(v), 571.7, xp(v), 718.3, '#e2e2e2', 0.5));
  function rowLabel(s, y) { label(g, LX, y, s, FS, {fill: '#222'}); }
  // Points
  seg(g, xp(0), 571.7, xp(100), 571.7, '#555', 0.5);
  d3.range(0, 101, 2).forEach(v => seg(g, xp(v), 571.7, xp(v), 571.7 - (v % 10 === 0 ? 2 : 1.1), '#555', 0.4));
  nomoPointTicks.forEach(v => label(g, xp(v), 568.2, String(v), TF, {anchor: 'middle', fill: TC}));
  rowLabel('Points', 574.7);
  // age
  seg(g, xp(agePts[0]), 587.3, xp(agePts[agePts.length - 1]), 587.3, '#555', 0.5);
  agePts.forEach((p, i) => {
    seg(g, xp(p), 587.3, xp(p), 585.3, '#555', 0.4);
    if (i < agePts.length - 1) seg(g, xp((p + agePts[i + 1]) / 2), 587.3, xp((p + agePts[i + 1]) / 2), 586.2, '#555', 0.4);
    label(g, xp(p), 599.8, String(ageLabels[i]), TF, {anchor: 'middle', fill: TC});
  });
  rowLabel('age', 594.7);
  // gender
  seg(g, xp(0.3), 612.3, xp(0.9), 613.8, '#555', 0.4);
  label(g, xp(0.9), 610, 'F', TF, {anchor: 'middle', fill: TC});
  label(g, xp(0.6), 620.3, 'M', TF, {anchor: 'middle', fill: TC});
  rowLabel('gender', 616.3);
  // categorical rows
  function catRow(levels, pts, ay, name, ly) {
    seg(g, xp(pts[0]), ay, xp(pts[pts.length - 1]), ay, '#555', 0.5);
    pts.forEach((p, i) => {
      const up = i % 2 === 1;
      seg(g, xp(p), ay, xp(p), ay + (up ? -1.6 : 1.6), '#555', 0.4);
      label(g, xp(p), up ? ay - 3 : ay + 6.5, levels[i], TF, {anchor: 'middle', fill: TC});
    });
    rowLabel(name, ly);
  }
  catRow(stageLevels, stagePts, 634, 'stage', 637);
  catRow(tLevels, tPts, 655, 'T', 658);
  catRow(mLevels, mPts, 676, 'M', 679.7);
  catRow(nLevels, nPts, 697, 'N', 700.7);
  // riskscore
  const xr = d3.scaleLinear().domain([-1.5, 2]).range([xp(0), xp(100)]);
  seg(g, xr(-1.5), 718.3, xr(2), 718.3, '#555', 0.5);
  d3.range(-15, 21, 1).forEach(v => seg(g, xr(v / 10), 718.3, xr(v / 10), 718.3 - (v % 5 === 0 ? 2 : 1.1), '#555', 0.4));
  riskLabels.forEach(v => label(g, xr(v), 725.3, hy(v), TF, {anchor: 'middle', fill: TC}));
  rowLabel('riskscore', 721.3);
  // total points
  seg(g, xt(0), 739.3, xt(200), 739.3, '#555', 0.5);
  d3.range(0, 201, 5).forEach(v => seg(g, xt(v), 739.3, xt(v), 739.3 - (v % 20 === 0 ? 2 : 1.1), '#555', 0.4));
  totalTicks.forEach(v => label(g, xt(v), 746.3, String(v), TF, {anchor: 'middle', fill: TC}));
  rowLabel('Total Points', 742.3);
  // linear predictor
  const xl = d3.scaleLinear().domain([-3.5, 4]).range([xt(31.3), xt(192.4)]);
  seg(g, xl(-3.5), 760, xl(4), 760, '#555', 0.5);
  d3.range(-35, 41, 5).forEach(v => seg(g, xl(v / 10), 760, xl(v / 10), 758, '#555', 0.4));
  lpLabels.forEach(v => label(g, xl(v), 767, hy(v), TF, {anchor: 'middle', fill: TC}));
  rowLabel('Linear Predictor', 763);
  // survival probabilities
  function probRow(labs, tot, ay, name, ly) {
    seg(g, xt(tot[0]), ay, xt(tot[tot.length - 1]), ay, '#555', 0.5);
    tot.forEach((t, i) => {
      seg(g, xt(t), ay, xt(t), ay - 2, '#555', 0.4);
      label(g, xt(t), ay + 7.2, labs[i], TF, {anchor: 'middle', fill: TC});
    });
    rowLabel(name, ly);
  }
  probRow(surv3Labels, surv3Total, 780.7, '3-year survival Probability', 783.7);
  probRow(surv5Labels, surv5Total, 801, '5-year survival Probability', 804);
})();

// ---------------- Panel E calibration
(function() {
  const g = svg.append('g');
  const x = d3.scaleLinear().domain([0, 1]).range([436.5, 648]);
  const y = d3.scaleLinear().domain([0, 1]).range([765.3, 573.3]);
  seg(g, 426.7, 566.5, 426.7, 773.3, '#444', 0.6);
  seg(g, 426.7, 773.3, 656.7, 773.3, '#444', 0.6);
  seg(g, x(0), y(0), x(1.035), y(1.035), '#999', 0.6, '1,1.3');
  calHist.forEach(d => seg(g, x(d[0]), 566.7, x(d[0]), 566.7 + d[1], '#888', 0.5));
  const line = d3.line().x(d => x(d[0])).y(d => y(d[1]));
  [[cal3, '#3A7BD5'], [cal5, '#D0304A']].forEach(s => {
    g.append('path').attr('d', line(s[0])).attr('fill', 'none').attr('stroke', s[1]).attr('stroke-width', 0.7);
    s[0].forEach(p => g.append('rect').attr('x', x(p[0]) - 1.1).attr('y', y(p[1]) - 1.1)
      .attr('width', 2.2).attr('height', 2.2).attr('fill', s[1]));
  });
  [0, 0.2, 0.4, 0.6, 0.8, 1].forEach(v => {
    seg(g, 426.7, y(v), 423.7, y(v), '#444', 0.5);
    label(g, 419.5, y(v), v.toFixed(1), 5.6, {anchor: 'middle', fill: '#444', rot: -90});
    seg(g, x(v), 773.3, x(v), 776.3, '#444', 0.5);
    label(g, x(v), 785.5, v.toFixed(1), 5.8, {anchor: 'middle', fill: '#444'});
  });
  label(g, 405, 670, 'Observed OS (%)', 6.3, {anchor: 'middle', fill: '#333', rot: -90});
  label(g, 541.7, 800.5, 'Nomogram\u2212prediced OS (%)', 6.6, {anchor: 'middle', fill: '#222'});
  seg(g, 433, 574.3, 445, 574.3, '#3A7BD5', 0.8);
  seg(g, 433, 582.3, 445, 582.3, '#D0304A', 0.8);
  label(g, 449, 576.2, '3\u2212year', 5, {fill: '#333'});
  label(g, 449, 584.2, '5\u2212year', 5, {fill: '#333'});
  label(g, 426.7, 801.5, 'n=534 d=91 p=7, 200 subjects per group', 3.3, {fill: '#555'});
  label(g, 426.7, 805.5, 'Gray: ideal', 3.3, {fill: '#555'});
  label(g, 656.7, 801.5, 'X \u2212 resampling optimism added, B=1000', 3.3, {anchor: 'end', fill: '#555'});
  label(g, 656.7, 805.5, 'Based on observed-predicted', 3.3, {anchor: 'end', fill: '#555'});
})();

// ---------------- Panel F GSEA
function gseaPlot(o) {
  const g = svg.append('g');
  const x = d3.scaleLinear().domain([0, 1]).range([o.xa, o.xb]);
  const y = d3.scaleLinear().domain([0, 0.8]).range([o.yz, o.y8]);
  seg(g, o.xa, 851.7, o.xa, 956.7, '#999', 1.1);
  [0.8, 0.4, 0, -0.4].forEach(v => {
    seg(g, o.xa, y(v), o.xa - 1.2, y(v), '#999', 0.4);
    label(g, o.xa - 1.8, y(v) + 1.2, v.toFixed(1), 3.4, {anchor: 'end', fill: '#555'});
  });
  label(g, o.xa - 12, y(0), 'Enrichment Score', 3.5, {anchor: 'middle', fill: '#444', rot: -90});
  // legend drawn under curves
  o.names.forEach((n, i) => {
    const ly = 918.3 + i * 6.1;
    seg(g, o.xa + 3.4, ly, o.xa + 8.4, ly, gseaColors[i], 1.2);
    label(g, o.xa + 11, ly + 1.2, n, 3.55, {fill: '#444'});
  });
  seg(g, o.xa, y(0), o.xb, y(0), '#555', 0.6);
  const line = d3.line().x(d => x(d[0])).y(d => y(d[1])).curve(d3.curveMonotoneX);
  o.curves.forEach((c, i) => {
    g.append('path').attr('d', line(c)).attr('fill', 'none').attr('stroke', gseaColors[i]).attr('stroke-width', 1.2);
  });
  o.rug.forEach((r, row) => {
    const y0 = 971.7 + row * 4.7;
    r[1].forEach(p => seg(g, x(p), y0, x(p), y0 + 4.2, gseaColors[r[0]], 0.5).attr('stroke-opacity', 0.45));
  });
  seg(g, o.xa, 1001, o.xb, 1001, '#555', 0.5);
  label(g, (o.xa + o.xb) / 2, 1005.8, 'high expression<----------------->low expression', 3.5, {anchor: 'middle', fill: '#444'});
}
gseaPlot({xa: 18.3, xb: 210, yz: 905, y8: 854, names: goNames, curves: goCurves, rug: goRug});
gseaPlot({xa: 235, xb: 423.3, yz: 907.3, y8: 852.7, names: keggNames, curves: keggCurves, rug: keggRug});

// ---------------- Panel G GSVA
(function() {
  const g = svg.append('g');
  const x = d3.scaleLinear().domain([-8.66, 8.78]).range([433.3, 671.7]);
  const y = d3.scaleBand().domain(gSets).range([824.3, 1020]).paddingInner(0.12).paddingOuter(0.06);
  const barCol = v => v >= 1 ? '#1F4F8F' : (v <= -1 ? '#6FD06F' : '#C8C8C8');
  const txtCol = v => v >= 1 ? '#2E62AE' : (v <= -1 ? '#5CC85C' : '#C4C4C4');
  g.selectAll('rect.bar').data(gSets).join('rect')
    .attr('x', (d, i) => x(Math.min(0, gT[i])))
    .attr('width', (d, i) => Math.abs(x(gT[i]) - x(0)))
    .attr('y', d => y(d)).attr('height', y.bandwidth())
    .attr('fill', (d, i) => barCol(gT[i]));
  [-1, 1].forEach(v => seg(g, x(v), 824.3, x(v), 1020, '#fff', 0.6).attr('stroke-opacity', 0.55));
  gSets.forEach((d, i) => {
    const pos = gT[i] > 0;
    label(g, x(0) + (pos ? -1.8 : 1.8), y(d) + y.bandwidth() / 2 + 1.3, d, 3.7,
      {anchor: pos ? 'end' : 'start', fill: txtCol(gT[i])});
  });
  g.append('rect').attr('x', 433.3).attr('y', 824.3).attr('width', 671.7 - 433.3).attr('height', 1020 - 824.3)
    .attr('fill', 'none').attr('stroke', '#bbb').attr('stroke-width', 0.6);
  [-5, 0, 5].forEach(v => {
    seg(g, x(v), 1020, x(v), 1021.5, '#777', 0.5);
    label(g, x(v), 1025, hy(v), 4, {anchor: 'middle', fill: '#555'});
  });
  label(g, x(0), 1029.3, 't value of GSVA score', 4.2, {anchor: 'middle', fill: '#333'});
  label(g, x(0), 1034.3, 'between HRisk and LRisk', 4.2, {anchor: 'middle', fill: '#333'});
})();
</script>
</body>
</html>
